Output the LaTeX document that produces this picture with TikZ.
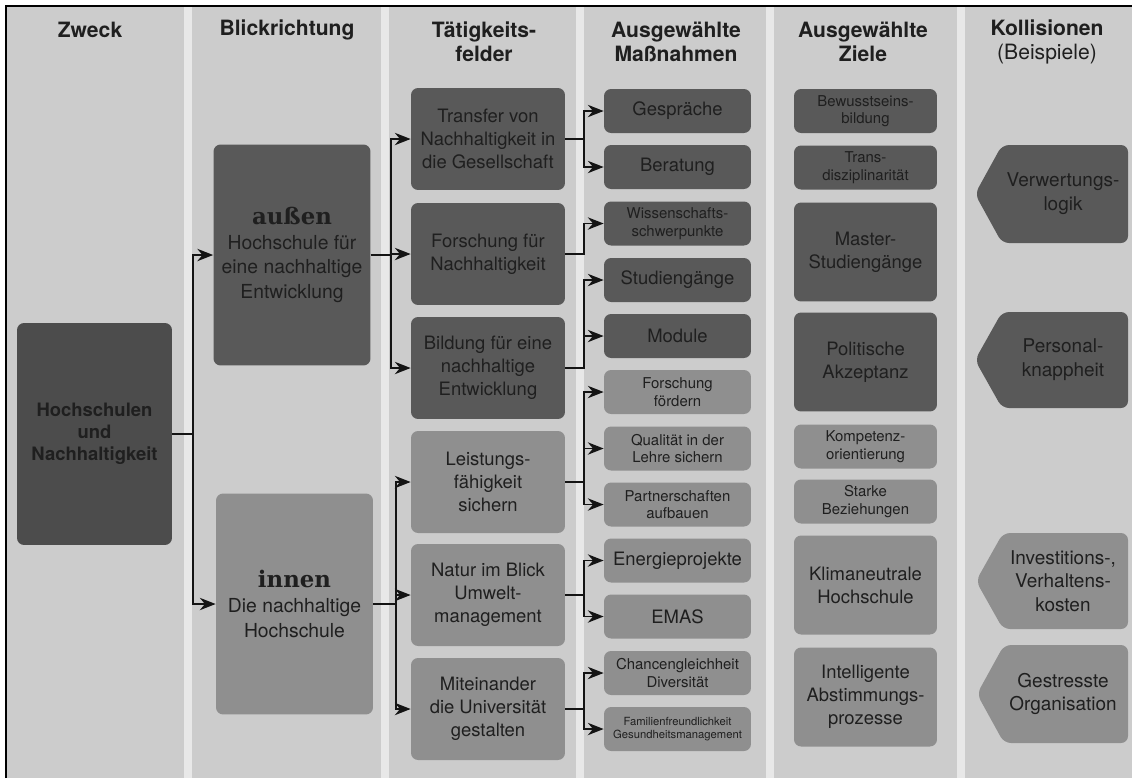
\documentclass[tikz,border=0pt]{standalone}
\usepackage{fontspec}
\setmainfont{TeX Gyre Heros}
\newfontfamily\slabfont{DejaVu Serif}
\usetikzlibrary{arrows.meta, positioning, calc}
\definecolor{colbg}{gray}{0.80}
\definecolor{stripe}{gray}{0.91}
\definecolor{boxdeep}{gray}{0.30}
\definecolor{boxdark}{gray}{0.35}
\definecolor{boxlight}{gray}{0.56}
\definecolor{txt}{gray}{0.12}
\definecolor{linecol}{gray}{0.08}
\tikzset{>={Stealth[length=9pt,width=7pt]}}
\tikzset{
  box/.style={rounded corners=4pt, align=center, inner sep=1pt, text=txt, font=\fontsize{10.5}{13}\selectfont},
  darkbox/.style={box, fill=boxdark},
  lightbox/.style={box, fill=boxlight},
  zweckbox/.style={minimum width=3.1cm, minimum height=4.44cm},
  blickbox/.style={minimum width=3.14cm, minimum height=4.42cm, font=\fontsize{11}{14}\selectfont},
  feldbox/.style={minimum width=3.08cm, minimum height=2.04cm},
  massbox/.style={minimum width=2.94cm, minimum height=0.88cm},
  zielbox/.style={minimum width=2.86cm, minimum height=0.88cm},
  zielbig/.style={minimum width=2.86cm, minimum height=1.98cm},
  smalltxt/.style={font=\fontsize{8.5}{10}\selectfont},
  tinytxt/.style={font=\fontsize{6.4}{7.8}\selectfont},
  head/.style={align=center, text=txt, font=\fontsize{12}{13.5}\selectfont\bfseries},
  kolltxt/.style={align=center, text=txt, font=\fontsize{10.8}{13.5}\selectfont},
  link/.style={->, line width=1.1pt, draw=linecol},
}
\newcommand{\slabword}[1]{{\slabfont\bfseries\fontsize{13}{15}\selectfont #1}}
\begin{document}
\begin{tikzpicture}[x=0.02cm, y=-0.02cm]
\useasboundingbox (0,0) rectangle (1132,778);
\fill[white] (0,0) rectangle (1132,778);
\fill[colbg] (6,6) rectangle (1132,778);
\fill[stripe] (184,6) rectangle (192,778);
\fill[stripe] (381,6) rectangle (389,778);
\fill[stripe] (576,6) rectangle (584,778);
\fill[stripe] (766,6) rectangle (774,778);
\fill[stripe] (957,6) rectangle (965,778);
\draw[line width=1.2pt] (6,778) -- (6,6) -- (1132,6);

\node[head] (hzweck) at (90,30) {Zweck};
\node[head] (hblick) at (287,30) {Blickrichtung};
\node[head] (hfeld) at (484,42) {Tätigkeits-\\felder};
\node[head] (hmass) at (676,42) {Ausgewählte\\Maßnahmen};
\node[head] (hziel) at (863,42) {Ausgewählte\\Ziele};
\node[head] (hkoll) at (1047,42) {Kollisionen\\\mdseries(Beispiele)};

\node[darkbox, zweckbox, fill=boxdeep, font=\fontsize{10.5}{12.5}\selectfont\bfseries] (hs) at (94.5,434) {Hochschulen\\und\\Nachhaltigkeit};

\node[darkbox, blickbox] (aussen) at (292,255) {\slabword{außen}\\Hochschule für\\eine nachhaltige\\Entwicklung};
\node[lightbox, blickbox] (innen) at (294.5,604) {\slabword{innen}\\Die nachhaltige\\Hochschule};

\node[darkbox, feldbox] (transfer) at (488,139) {Transfer von\\Nachhaltigkeit in\\die Gesellschaft};
\node[darkbox, feldbox] (forschung) at (488,254) {Forschung für\\Nachhaltigkeit};
\node[darkbox, feldbox] (bildung) at (488,368) {Bildung für eine\\nachhaltige\\Entwicklung};
\node[lightbox, feldbox] (leistung) at (488,482) {Leistungs-\\fähigkeit\\sichern};
\node[lightbox, feldbox] (natur) at (488,595) {Natur im Blick\\Umwelt-\\management};
\node[lightbox, feldbox] (miteinander) at (488,709) {Miteinander\\die Universität\\gestalten};

\node[darkbox, massbox] (gespraeche) at (677.5,111) {Gespräche};
\node[darkbox, massbox] (beratung) at (677.5,167) {Beratung};
\node[darkbox, massbox, smalltxt] (wissen) at (677.5,223.5) {Wissenschafts-\\schwerpunkte};
\node[darkbox, massbox] (studien) at (677.5,280) {Studiengänge};
\node[darkbox, massbox] (module) at (677.5,336) {Module};
\node[lightbox, massbox, smalltxt] (ffoerdern) at (677.5,392) {Forschung\\fördern};
\node[lightbox, massbox, smalltxt] (qualitaet) at (677.5,448.5) {Qualität in der\\Lehre sichern};
\node[lightbox, massbox, smalltxt] (partner) at (677.5,504.5) {Partnerschaften\\aufbauen};
\node[lightbox, massbox] (energie) at (677.5,560.5) {Energieprojekte};
\node[lightbox, massbox] (emas) at (677.5,616.5) {EMAS};
\node[lightbox, massbox, smalltxt] (chancen) at (677.5,673) {Chancengleichheit\\Diversität};
\node[lightbox, massbox, tinytxt] (familie) at (677.5,729) {Familienfreundlichkeit\\Gesundheitsmanagement};

\node[darkbox, zielbox, smalltxt] (bewusst) at (865.5,111) {Bewusstseins-\\bildung};
\node[darkbox, zielbox, smalltxt] (transdis) at (865.5,167.5) {Trans-\\disziplinarität};
\node[darkbox, zielbig] (master) at (865.5,252) {Master-\\Studiengänge};
\node[darkbox, zielbig] (politik) at (865.5,362) {Politische\\Akzeptanz};
\node[lightbox, zielbox, smalltxt] (kompetenz) at (865.5,446.5) {Kompetenz-\\orientierung};
\node[lightbox, zielbox, smalltxt] (starke) at (865.5,501.5) {Starke\\Beziehungen};
\node[lightbox, zielbig] (klima) at (865.5,585) {Klimaneutrale\\Hochschule};
\node[lightbox, zielbig] (abstimm) at (865.5,697) {Intelligente\\Abstimmungs-\\prozesse};

\fill[boxdark, rounded corners=4pt] (975,194) -- (1002,145) -- (1128,145) -- (1128,243) -- (1002,243) -- cycle;
\node[kolltxt] (verwertung) at (1063,194) {Verwertungs-\\logik};
\fill[boxdark, rounded corners=4pt] (975,360) -- (1002,312) -- (1128,312) -- (1128,408) -- (1002,408) -- cycle;
\node[kolltxt] (personal) at (1063,360) {Personal-\\knappheit};
\fill[boxlight, rounded corners=4pt] (976,581) -- (1003,533) -- (1128,533) -- (1128,629) -- (1003,629) -- cycle;
\node[kolltxt] (invest) at (1063,581) {Investitions-,\\Verhaltens-\\kosten};
\fill[boxlight, rounded corners=4pt] (977,694) -- (1004,645) -- (1128,645) -- (1128,743) -- (1004,743) -- cycle;
\node[kolltxt] (stress) at (1063,694) {Gestresste\\Organisation};

\draw[link] (hs.east) -- ++(21,0) |- (aussen.west);
\draw[link] (hs.east) -- ++(21,0) |- (innen.west);

\draw[link] (aussen.east) -- ++(20,0) |- (transfer.west);
\draw[link] (aussen.east) -- ++(20,0) |- (forschung.west);
\draw[link] (aussen.east) -- ++(20,0) |- (bildung.west);
\draw[link] (innen.east) -- ++(23,0) |- (leistung.west);
\draw[link] (innen.east) -- ++(23,0) |- (natur.west);
\draw[link] (innen.east) -- ++(23,0) |- (miteinander.west);

\draw[link] (transfer.east) -- ++(19,0) |- (gespraeche.west);
\draw[link] (transfer.east) -- ++(19,0) |- (beratung.west);
\draw[link] (forschung.east) -- ++(19,0) |- (wissen.west);
\draw[link] (bildung.east) -- ++(19,0) |- (studien.west);
\draw[link] (bildung.east) -- ++(19,0) |- (module.west);
\draw[link] (leistung.east) -- ++(19,0) |- (ffoerdern.west);
\draw[link] (leistung.east) -- ++(19,0) |- (qualitaet.west);
\draw[link] (leistung.east) -- ++(19,0) |- (partner.west);
\draw[link] (natur.east) -- ++(19,0) |- (energie.west);
\draw[link] (natur.east) -- ++(19,0) |- (emas.west);
\draw[link] (miteinander.east) -- ++(19,0) |- (chancen.west);
\draw[link] (miteinander.east) -- ++(19,0) |- (familie.west);
\end{tikzpicture}
\end{document}
